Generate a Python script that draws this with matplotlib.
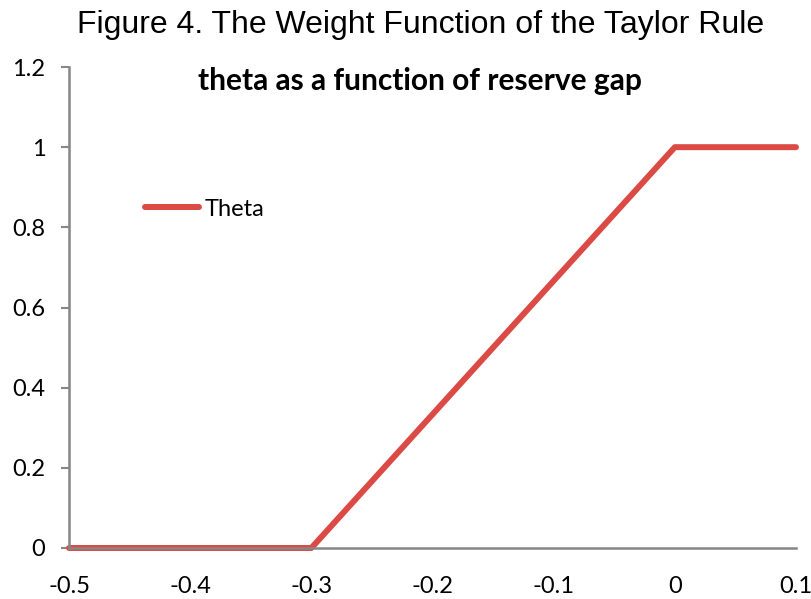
import matplotlib
matplotlib.use("Agg")
import matplotlib.pyplot as plt

reserve_gap = [-0.5, -0.3, 0.0, 0.1]
theta = [0.0, 0.0, 1.0, 1.0]
xticks = [-0.5, -0.4, -0.3, -0.2, -0.1, 0.0, 0.1]
xtick_labels = ["-0.5", "-0.4", "-0.3", "-0.2", "-0.1", "0", "0.1"]
yticks = [0, 0.2, 0.4, 0.6, 0.8, 1.0, 1.2]
ytick_labels = ["0", "0.2", "0.4", "0.6", "0.8", "1", "1.2"]

fig = plt.figure(figsize=(8.12, 5.99), dpi=100)
ax = fig.add_axes([69/812, 1-548/599, (796-69)/812, (548-67)/599])

ax.plot(reserve_gap, theta, color="#DB4A44", lw=4.3, solid_capstyle="round",
        label="Theta", clip_on=False)
ax.set_xlim(-0.5, 0.1)
ax.set_ylim(0, 1.2)
ax.set_xticks(xticks)
ax.set_xticklabels(xtick_labels, family="Lato", fontsize=17)
ax.set_yticks(yticks)
ax.set_yticklabels(ytick_labels, family="Lato", fontsize=17)
for s in ["top", "right"]:
    ax.spines[s].set_visible(False)
for s in ["left", "bottom"]:
    ax.spines[s].set_color("#868686")
    ax.spines[s].set_linewidth(1.8)
ax.tick_params(axis="y", length=6, width=1.5, color="#868686", pad=11)
ax.tick_params(axis="x", length=0, pad=20)

leg = ax.legend(loc="center left", bbox_to_anchor=(0.104, (548-209)/481), frameon=False,
                prop={"family": "Lato", "size": 17}, handlelength=2.3,
                handletextpad=0.25, borderpad=0, borderaxespad=0)

fig.text(421/812, 1-33/599, "Figure 4. The Weight Function of the Taylor Rule",
         ha="center", va="baseline", family="Liberation Sans", fontsize=23)
fig.text(420/812, 1-90/599, "theta as a function of reserve gap",
         ha="center", va="baseline", family="Lato", fontweight="bold", fontsize=21.5)

fig.savefig("out.png", dpi=100)
